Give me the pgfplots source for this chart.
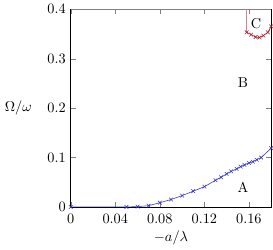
\documentclass[border=0pt]{standalone}
\usepackage{pgfplots}
\pgfplotsset{compat=1.18}
\definecolor{cblue}{RGB}{55,55,195}
\definecolor{cred}{RGB}{175,30,40}
\definecolor{cpink}{RGB}{215,130,135}
\begin{document}
\begin{tikzpicture}
\begin{axis}[
  scale only axis, width=140pt, height=138pt,
  xmin=0, xmax=0.18, ymin=0, ymax=0.4,
  xtick={0,0.04,0.08,0.12,0.16},
  ytick={0,0.1,0.2,0.3,0.4},
  xticklabel style={/pgf/number format/fixed,/pgf/number format/precision=2,yshift=-1.5pt},
  yticklabel style={/pgf/number format/fixed,/pgf/number format/precision=1},
  xlabel={$-a/\lambda$},
  ylabel={$\Omega/\omega$},
  xlabel style={at={(axis description cs:0.5,-0.155)},anchor=center},
  ylabel style={rotate=-90,at={(axis description cs:-0.262,0.5)},anchor=center},
  major tick length=3.5pt,
  clip=false,
]
\addplot[gray, line width=1.2pt] coordinates {(0,0.4) (0.18,0.4)};
\addplot[cblue, mark=x, mark size=1.8pt, thin] coordinates {
(0,0) (0.05,0) (0.06,0.0007) (0.07,0.0026) (0.08,0.0086) (0.09,0.015)
(0.10,0.023) (0.11,0.032) (0.12,0.041) (0.13,0.054) (0.135,0.060)
(0.14,0.067) (0.144,0.072) (0.149,0.077) (0.1525,0.0816) (0.156,0.085)
(0.16,0.089) (0.1635,0.0915) (0.167,0.0955) (0.171,0.100) (0.18,0.119)
};
\addplot[cpink, thin] coordinates {(0.1576,0.4) (0.1576,0.3536)};
\addplot[cred, mark=x, mark size=1.8pt, thin] coordinates {
(0.158,0.3536) (0.162,0.349) (0.166,0.344) (0.1695,0.343) (0.173,0.347) (0.177,0.3536) (0.18,0.3656)
};
\node at (axis cs:0.1546,0.040) {A};
\node at (axis cs:0.1546,0.251) {B};
\node at (axis cs:0.1665,0.371) {C};
\end{axis}
\end{tikzpicture}
\end{document}
